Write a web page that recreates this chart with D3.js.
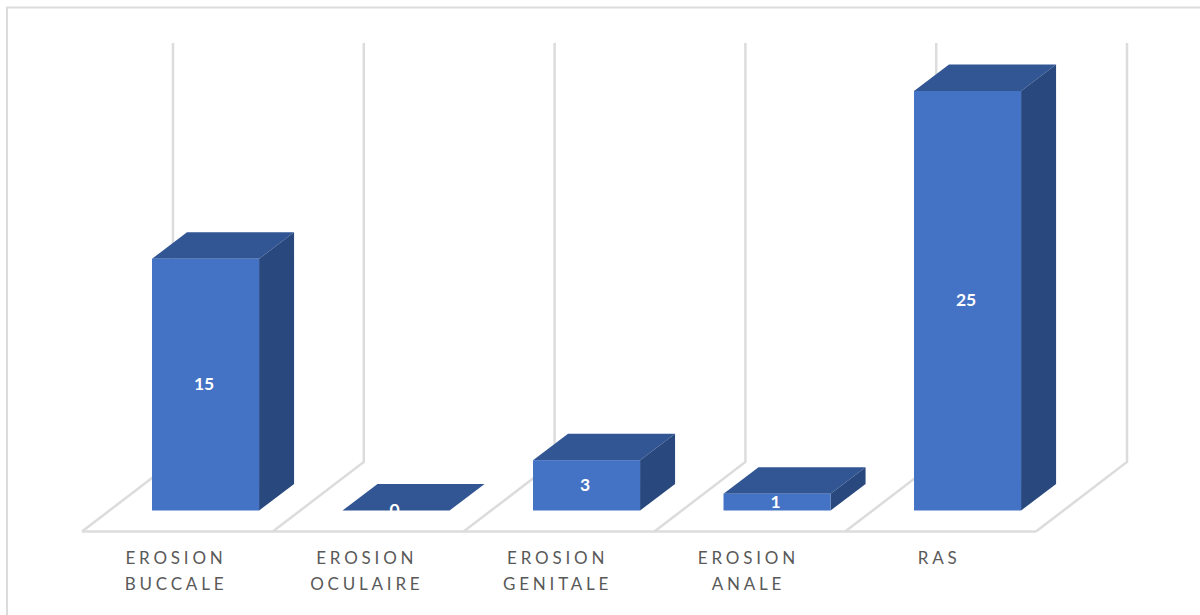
<!DOCTYPE html>
<html>
<head>
<meta charset="utf-8">
<script src="https://cdn.jsdelivr.net/npm/d3@7/dist/d3.min.js"></script>
<style>
  html, body { margin: 0; padding: 0; background: #fff; }
  svg { display: block; }
</style>
</head>
<body>
<svg id="chart" width="1200" height="615"></svg>
<script>
// Chart values
const categories = [["EROSION", "BUCCALE"], ["EROSION", "OCULAIRE"], ["EROSION", "GENITALE"], ["EROSION", "ANALE"], ["RAS"]];
const values = [15, 0, 3, 1, 25];

// 3D projection offsets and palette
const depthX = 35, depthY = -26.5;
const wallDX = 91, wallDY = -69.5;
const colors = { front: "#4472C4", top: "#325694", side: "#29487E", grid: "#DCDCDC", text: "#595959" };

const svg = d3.select("#chart");
const keys = categories.map(c => c.join(" "));

// Scales: floor cells along the front edge, bars inset inside them
const floorX = d3.scaleBand().domain(keys).range([82, 1036]);
const barX = d3.scaleBand().domain(keys).range([110.3, 1062.8]).paddingInner(0.438).paddingOuter(0.219);
const y = d3.scaleLinear().domain([0, 25]).range([510.5, 91]);

// Outer frame
svg.append("path")
  .attr("d", "M7,615V7.5H1200")
  .attr("fill", "none").attr("stroke", colors.grid).attr("stroke-width", 2);

// Floor edges and walls
const floorY = 531.5, wallTop = 43;
const edges = keys.map(k => floorX(k)).concat(floorX.range()[1]);
const grid = svg.append("g").attr("stroke", colors.grid).attr("stroke-width", 2.5).attr("fill", "none");
grid.append("line").attr("x1", edges[0]).attr("x2", edges[5]).attr("y1", floorY).attr("y2", floorY);
grid.selectAll("path.wall").data(edges).join("path").attr("class", "wall")
  .attr("d", x => `M${x},${floorY}L${x + wallDX},${floorY + wallDY}V${wallTop}`);

// Extruded bars: top, side, then front face
const bars = svg.append("g").selectAll("g").data(keys.map((k, i) => ({ k, v: values[i] }))).join("g");
const poly = pts => "M" + pts.map(p => p.join(",")).join("L") + "Z";

bars.append("path").attr("fill", colors.top).attr("d", d => {
  const x0 = barX(d.k), x1 = x0 + barX.bandwidth(), t = y(d.v);
  return poly([[x0, t], [x0 + depthX, t + depthY], [x1 + depthX, t + depthY], [x1, t]]);
});
bars.append("path").attr("fill", colors.side).attr("d", d => {
  const x1 = barX(d.k) + barX.bandwidth(), t = y(d.v), b = y(0);
  return poly([[x1, t], [x1 + depthX, t + depthY], [x1 + depthX, b + depthY], [x1, b]]);
});
bars.append("rect").attr("fill", colors.front)
  .attr("x", d => barX(d.k)).attr("width", barX.bandwidth())
  .attr("y", d => y(d.v)).attr("height", d => y(0) - y(d.v));

// Value labels, centred on the front face
bars.append("text")
  .attr("x", d => barX(d.k) + barX.bandwidth() / 2 - 1.5)
  .attr("y", d => (y(d.v) + y(0)) / 2 + 5.5)
  .attr("text-anchor", "middle")
  .attr("font-family", "Lato, 'Open Sans', sans-serif")
  .attr("font-weight", 700).attr("font-size", 17.5).attr("fill", "#fff")
  .text(d => d.v);

// Category labels, wrapped over two lines
const labels = svg.append("g").selectAll("text").data(categories).join("text")
  .attr("text-anchor", "middle")
  .attr("font-family", "Lato, 'Open Sans', sans-serif")
  .attr("font-size", 17).attr("letter-spacing", 3.8).attr("fill", colors.text)
  .attr("transform", (c, i) => `translate(${floorX(keys[i]) + 94},0)`);
labels.selectAll("tspan").data(c => c).join("tspan")
  .attr("x", 0).attr("y", (t, i) => 564 + i * 26).text(t => t);
</script>
</body>
</html>
